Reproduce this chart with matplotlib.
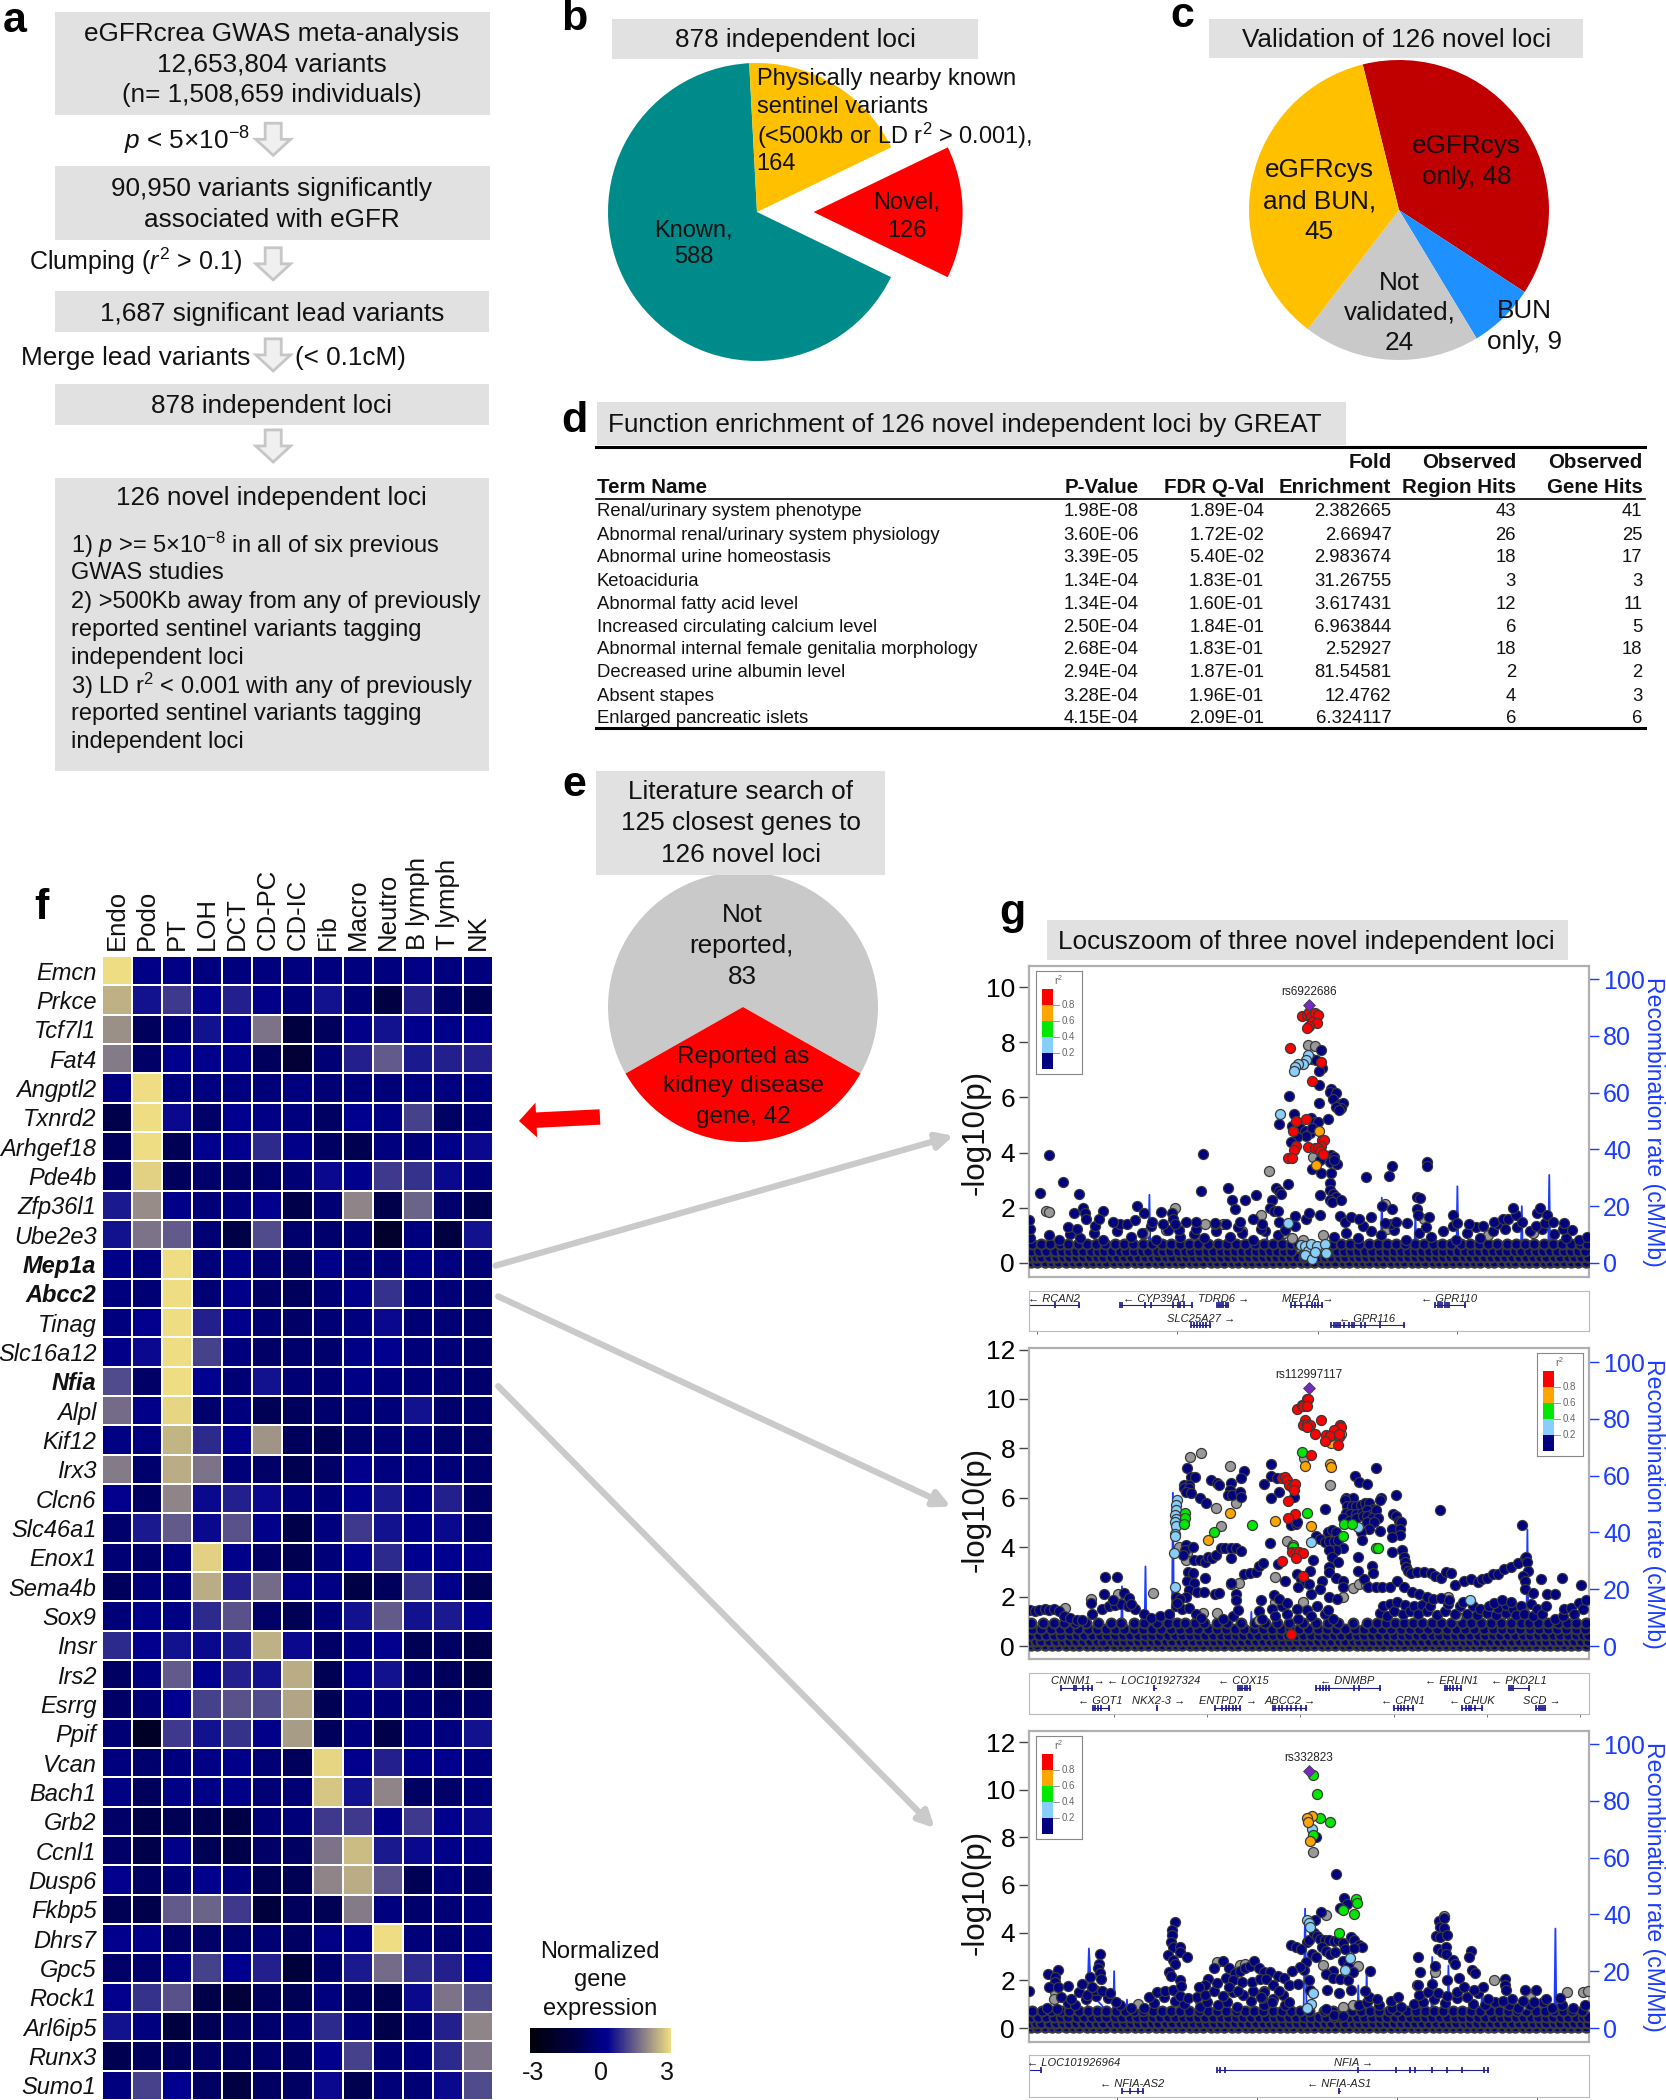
import matplotlib
matplotlib.use('Agg')
import matplotlib.pyplot as plt
from matplotlib.colors import LinearSegmentedColormap, Normalize
from matplotlib.patches import Rectangle, Polygon, FancyArrow, FancyArrowPatch
from matplotlib.path import Path

plt.rcParams['font.family'] = ['Liberation Sans', 'DejaVu Sans']
plt.rcParams['mathtext.fontset'] = 'custom'
plt.rcParams['mathtext.rm'] = 'Liberation Sans'
plt.rcParams['mathtext.it'] = 'Liberation Sans:italic'
plt.rcParams['mathtext.bf'] = 'Liberation Sans:bold'

W = 1666
H = 2100
GREY_BOX = '#E1E1E1'
BLUE = '#1B3CFF'

# ---- pies
b_values = [588, 126, 164]
b_colors = ['#008B8B', '#FF0000', '#FFC000']
c_values = [48, 9, 24, 45]
c_colors = ['#C00000', '#1E90FF', '#C9C9C9', '#FFC000']
e_values = [83, 42]
e_colors = ['#C9C9C9', '#FF0000']

# ---- table d
term_names = ['Renal/urinary system phenotype', 'Abnormal renal/urinary system physiology',
              'Abnormal urine homeostasis', 'Ketoaciduria', 'Abnormal fatty acid level',
              'Increased circulating calcium level', 'Abnormal internal female genitalia morphology',
              'Decreased urine albumin level', 'Absent stapes', 'Enlarged pancreatic islets']
p_vals = ['1.98E-08', '3.60E-06', '3.39E-05', '1.34E-04', '1.34E-04', '2.50E-04', '2.68E-04', '2.94E-04', '3.28E-04', '4.15E-04']
fdr_vals = ['1.89E-04', '1.72E-02', '5.40E-02', '1.83E-01', '1.60E-01', '1.84E-01', '1.83E-01', '1.87E-01', '1.96E-01', '2.09E-01']
fold_vals = ['2.382665', '2.66947', '2.983674', '31.26755', '3.617431', '6.963844', '2.52927', '81.54581', '12.4762', '6.324117']
region_hits = ['43', '26', '18', '3', '12', '6', '18', '2', '4', '6']
gene_hits = ['41', '25', '17', '3', '11', '5', '18', '2', '3', '6']

# ---- heatmap f
cell_types = ['Endo', 'Podo', 'PT', 'LOH', 'DCT', 'CD-PC', 'CD-IC', 'Fib', 'Macro', 'Neutro', 'B lymph', 'T lymph', 'NK']
genes = ['Emcn', 'Prkce', 'Tcf7l1', 'Fat4', 'Angptl2', 'Txnrd2', 'Arhgef18', 'Pde4b', 'Zfp36l1', 'Ube2e3',
         'Mep1a', 'Abcc2', 'Tinag', 'Slc16a12', 'Nfia', 'Alpl', 'Kif12', 'Irx3', 'Clcn6', 'Slc46a1',
         'Enox1', 'Sema4b', 'Sox9', 'Insr', 'Irs2', 'Esrrg', 'Ppif', 'Vcan', 'Bach1', 'Grb2',
         'Ccnl1', 'Dusp6', 'Fkbp5', 'Dhrs7', 'Gpc5', 'Rock1', 'Arl6ip5', 'Runx3', 'Sumo1']
bold_genes = ['Mep1a', 'Abcc2', 'Nfia']
expr = [
    [3, 0, 0, -.1, -.1, -.1, -.1, -.1, -.1, -.1, 0, -.1, -.1],
    [2.45, .5, 1, .35, .7, .1, -.2, .5, -.3, -1.2, .7, -.5, -.8],
    [2.05, -.7, -.3, .5, .2, 1.7, -1.3, -.7, .1, .5, .2, .1, .2],
    [1.8, -.5, .2, .2, .1, -.7, -1.6, -.3, .7, 1.4, .6, .7, .7],
    [-.1, 3, -.1, -.1, -.1, -.2, -.1, -.3, -.2, -.2, -.1, -.1, -.1],
    [-1, 3, .4, -.5, .3, 0, -.1, -.6, .3, 0, 1.1, -.6, -.3],
    [-.7, 3, -.8, .3, .2, .8, .1, -.6, -.9, -.1, -.2, .1, .4],
    [-.5, 2.85, -.7, -.4, -.5, -.4, -.3, .4, .2, 1, .9, .4, -.2],
    [.6, 2, .1, -.2, -.1, .2, -1, -.3, 1.9, -1, 1.5, -.4, -.9],
    [.5, 1.7, 1.4, -.3, -1.1, 1.2, -.4, -.4, -.3, -1.9, -.1, -1.3, .5],
    [.1, -.1, 3, -.2, .1, -.3, -.6, .1, -.2, -.2, .1, -.1, -.3],
    [-.1, -.3, 3, -.3, .1, -.5, -.7, -.3, .1, .9, -.2, -.2, -.4],
    [-.1, .2, 3, .7, .2, -.3, -.5, -.3, -.1, .4, -.3, -.3, -.4],
    [.1, .4, 3, 1.1, -.1, -.5, -.4, -.4, 0, .3, -.2, -.2, -.4],
    [1.2, -.5, 3, .3, -.3, .5, -.3, -.3, 0, -.1, -.2, -.3, -.4],
    [1.6, .1, 2.9, -.4, -.1, -.8, -.7, -.4, -.3, -.2, .5, -.4, -.4],
    [0, -.1, 2.5, .8, .2, 2.1, -.7, -.8, -.4, -.3, -.2, -.4, -.5],
    [1.8, -.4, 2.4, 1.7, -.2, -.5, -.9, -.5, .2, -.1, -.1, -.2, -.4],
    [.2, -.6, 1.9, .4, .7, .4, -.2, -.2, .3, .6, 0, .7, -.5],
    [-.4, .6, 1.4, .4, 1.3, .1, -1, -.1, 1, .5, .1, .4, -.4],
    [-.3, -.4, -.1, 2.85, .1, -.5, -.9, -.2, .3, .8, .3, .3, .1],
    [-.7, -.2, -.2, 2.4, .7, 1.6, 0, 0, -1.1, -.7, .9, .1, -.8],
    [-.2, .1, 0, .8, 1.3, -.5, -.8, -.2, .5, 1.4, .5, .6, .2],
    [.8, .2, .5, .4, .6, 2.45, .4, -.5, -.1, .2, -.8, -.6, -1],
    [-.6, -.1, 1.4, .3, .7, .5, 2.4, -.8, .1, .5, -.5, -.7, -1.1],
    [-.5, -.3, .3, 1.1, 1.3, 1.2, 2.3, -.8, -.1, -.2, -.3, -.5, -.5],
    [-.3, -2.1, 1, .5, .9, .1, 2.2, -.7, -.1, -1, -.1, -.1, .5],
    [-.1, -.4, -.1, 0, .1, -.3, -.7, 2.9, .2, .7, .1, .2, -.1],
    [0, -.7, 0, 0, .1, -.3, -.3, 2.7, .5, 1.9, -.6, -.5, -.2],
    [-.5, -1, -.8, -.9, -1.1, -.3, -.2, 1, 1, .1, 1, .2, .4],
    [-.5, -1, .1, -.8, -1, -.5, -.6, 1.7, 2.6, .6, .4, .1, 0],
    [.2, -.6, -.2, .2, -.1, -.8, -.8, 1.9, 2.4, 1.3, -.8, -.1, -.5],
    [-.8, -1, 1.4, 1.5, 1, -1.4, -.7, -.8, 1.8, -.1, -.4, -.3, -.1],
    [.2, .1, -.5, -.5, -.4, -.3, -.6, 0, .1, 3, -.2, -.3, -.1],
    [-.5, -.4, 0, 1.1, .3, .7, -1.5, -.4, .6, 1.6, .8, .7, .3],
    [.2, .9, 1.3, -1, -1.5, -.7, -.8, -.1, -.6, -.9, .4, 1.7, 1.2],
    [.5, -.1, -1.3, -.8, -.5, -.4, -.3, .8, -.2, -1, -.4, .7, 1.9],
    [-.9, -.7, -.7, -.5, -.6, -.4, -.6, .2, 1.1, -.3, -.1, .8, 1.7],
    [-.1, 1.1, .3, -.6, -1.2, -.6, -.6, .4, -.9, -.2, -.3, .4, 1.2],
]

# ---- locus zoom: low band, x in percent of the panel width
low_x_a = [0.4, 1.5, 2.9, 4.1, 5.2, 6.6, 7.8, 8.9, 10.3, 11.4, 12.7, 13.8, 15.1, 16.4, 17.5, 18.9, 20, 21.2, 22.6, 23.7, 25, 26.3, 27.4, 28.8, 29.9, 31.1, 32.5, 33.6, 34.9, 36.2, 37.3, 38.7, 39.8, 41, 42.4, 43.5, 44.8, 46.1, 47.2, 48.6, 49.7, 50.9, 52.3, 53.4, 54.7, 56, 57.1, 58.5, 59.6, 60.8, 62.2, 63.3, 64.6, 65.9, 67, 68.4, 69.5, 70.7, 72.1, 73.2, 74.5, 75.8, 76.9, 78.3, 79.4, 80.6, 82, 83.1, 84.4, 85.7, 86.8, 88.2, 89.3, 90.5, 91.9, 93, 94.3, 95.6, 96.7, 98.1, 99.4]
low_x_b = [0.1, 1.2, 2.2, 3.5, 4.8, 6, 7.1, 8.4, 9.7, 10.9, 12.1, 13.2, 14.6, 15.8, 16.9, 18.2, 19.5, 20.7, 21.9, 23.1, 24.4, 25.6, 26.9, 28.1, 29.3, 30.6, 31.8, 33, 34.3, 35.5, 36.8, 38, 39.2, 40.5, 41.7, 43, 44.1, 45.4, 46.6, 47.9, 49.1, 50.3, 51.6, 52.8, 54, 55.3, 56.5, 57.8, 59, 60.2, 61.5, 62.7, 64, 65.2, 66.4, 67.7, 68.9, 70.1, 71.4, 72.6, 73.9, 75.1, 76.3, 77.6, 78.8, 80, 81.3, 82.5, 83.8, 85, 86.2, 87.5, 88.7, 90, 91.2, 92.4, 93.7, 94.9, 96.2, 97.4, 98.6, 99.8]
low_grey_x = [1, 3.2, 6.3, 8.1, 11, 14.2, 17.8, 21.5, 24.1, 27.7, 30.2, 33.3, 36.5, 39.4, 42.1, 45.2, 48.5, 50.5, 52.1, 55.7, 58.2, 61.1, 64.3, 67.4, 70.4, 73.1, 76.7, 79.7, 82.3, 85.1, 88.6, 91.4, 94.6, 97.3, 99.1]

p1_levels = [0.45, 0.7]
p1_rows = [
    [0.3, 1.8, 3, 4.6, 5.9, 7.2, 8.4, 9.6, 11.1, 12.3, 13.4, 14.9, 16.2, 17.3, 18.7, 20.1, 21.3, 22.8, 24, 25.1, 26.6, 27.9, 29, 30.4, 31.7, 32.9, 34.2, 35.5, 36.7, 38, 39.3, 40.6, 41.8, 43, 44.3, 45.6, 46.8, 53.7, 55, 56.3, 57.5, 58.8, 60, 61.3, 62.6, 63.9, 65.1, 66.4, 67.7, 69, 70.2, 71.5, 72.7, 74, 75.3, 76.6, 77.8, 79.1, 80.3, 81.6, 82.9, 84.1, 85.4, 86.7, 87.9, 89.2, 90.5, 91.7, 93, 94.2, 95.5, 96.8, 98, 99.3],
    [0.5, 2.1, 3.8, 5.5, 7, 8.7, 10.4, 12, 13.5, 15.3, 17, 18.6, 20.4, 22, 23.7, 25.4, 27, 28.6, 30.2, 32, 33.7, 35.3, 37, 38.6, 40.3, 41.9, 43.6, 45.2, 46.7, 48, 54.2, 55.8, 57.4, 59, 60.7, 62.3, 64, 65.6, 67.2, 68.9, 70.5, 72.2, 73.8, 75.4, 77.1, 78.7, 80.4, 82, 83.6, 85.3, 87, 88.6, 90.2, 91.9, 93.5, 95.1, 96.8, 98.4, 99.7],
]
p1_upper = [(0.2, .9), (0.1, 1.25), (0, 1.55), (3.5, 1), (5.4, .85), (7.4, 1.05), (9.1, .9), (11.6, 1.1), (13.3, .85), (15.8, 1.15), (18.3, .95), (20.1, 1.1), (22.7, .85), (24.9, 1.2), (27, .95), (29.5, 1.05), (31.2, .9), (33.4, 1.15), (35.9, .95), (38.1, 1.1), (40, .85), (42.2, 1.15), (44.4, 1), (45.8, 1.2), (47.5, 1.35), (54.5, .95), (56.6, 1.1), (58.7, .9), (61, 1.15), (62.9, 1), (65.1, 1.2), (67.3, .85), (69.6, 1.1), (71.8, .95), (74, 1.15), (76.2, .85), (78.3, 1.1), (80.5, .9), (82.8, 1.15), (85, 1.25), (87.1, 1.3), (89.4, 1.15), (91.6, 1.25), (93.7, 1.05), (95.9, .9), (98.2, .85), (99.6, .95),
            (6.9, 1.3), (8.5, 1.25), (11.8, 1.35), (16.3, 1.4), (21.8, 1.35), (26.8, 1.2), (29.8, 1.25), (33.2, 1.4), (37.3, 1.3), (41.5, 1.25), (59.6, 1.35), (64.7, 1.4), (70.9, 1.3), (75.8, 1.35), (79.8, 1.3), (83.6, 1.4), (90.6, 1.35), (92.1, 1.45), (95.3, 1.25), (97, 1.2)]
p1_navy = [(3.6, 3.9), (31, 3.95), (2, 2.55), (6, 2.95), (8.9, 2.5), (30.7, 2.6), (35.5, 2.7), (36.2, 2.3), (38.5, 2.3), (40.5, 2.45), (44.1, 2.7), (44.6, 2.6), (45, 2.5), (46.2, 2.85), (52, 2.45), (53.8, 2.9), (53.8, 2.65), (54.2, 2.5), (54.8, 2.4), (53.8, 2.3), (54.1, 2.2), (55.8, 2.3), (60.2, 3.1), (64.2, 3.15), (64.8, 3.5), (71, 3.65), (71, 3.5), (69.2, 2.4), (69.8, 2.35), (63, 2.05), (64.8, 1.95), (69.2, 1.95), (43.4, 2.3), (43, 2), (43.7, 1.9), (44.5, 1.9), (36.8, 1.95), (8, 1.8), (9.6, 2), (10, 1.8), (10.2, 1.6), (13.2, 1.9), (19.3, 2.05), (20.6, 1.8), (23.6, 1.85), (25.6, 1.8), (25.8, 1.6), (26.1, 1.4),
           (52.1, 7.7), (50.5, 7.4), (51.3, 7.35), (52.4, 7.05), (51.8, 6.95), (51.8, 6.45), (54, 6.3), (53.8, 6.2), (54.8, 6.15), (54.2, 5.95), (46.4, 6.05), (51.8, 5.8), (55.5, 5.75), (56, 5.8), (55.8, 5.6), (54.8, 5.65), (55.3, 5.55), (47.4, 5.4), (44.7, 5.05), (50.4, 5.25), (51, 5.1), (51.6, 5.1), (53.4, 5.2), (47, 4.95), (48.4, 4.9), (49.3, 4.8), (50.1, 4.7), (50.6, 4.9), (49.5, 4.6), (47.8, 4.55), (46.8, 4.4), (52, 3.75), (54, 3.9), (54.5, 3.85), (53.8, 3.65), (55, 3.6), (54.5, 3.75), (50.6, 3.4), (52.1, 3.25), (53.9, 3.25),
           (12.5, 1.6), (15, 1.5), (17.5, 1.4), (19, 1.55), (22, 1.5), (24, 1.4), (28, 1.5), (29.8, 1.5), (33.3, 1.45), (35.2, 1.4), (37.6, 1.5), (40, 1.6), (41.6, 1.4), (44.6, 1.5), (47.5, 1.7), (49.5, 1.6), (50, 1.8), (52, 1.75), (55.5, 1.7), (56.5, 1.5), (57.5, 1.65), (59, 1.6), (61, 1.65), (63.5, 1.45), (65.5, 1.5), (67.5, 1.45), (69.4, 1.75), (71.5, 1.65), (75.8, 1.75), (76.5, 1.45), (78.5, 1.4), (81, 1.35), (83, 1.5), (84.7, 1.6), (85.5, 1.6), (87, 1.75), (88, 1.5), (86.5, 2), (90.7, 1.8), (91.2, 2), (92.5, 1.75), (93.5, 1.5), (95.5, 1.45)]
p1_grey = [(3, 1.9), (3.5, 1.85), (26, 2), (63.6, 2.15), (41.5, 1.75), (49.9, 7.9), (51.1, 7.85), (50.7, 3.85), (42.9, 3.35), (20.8, 1.1), (24.5, 1.2), (31.5, 1.4), (34.6, 1.4), (38, 1.15), (45.5, 1.1), (47, .9), (49, .85), (52.5, 1), (64, 1.25), (70.5, 1.6), (82, 1), (90, 1.1)]
p1_lblue = [(49.9, 7.55), (49.4, 7.35), (49, 7.2), (48, 7.2), (47.5, 7.1), (47.3, 6.95), (44.9, 5.4), (46.2, 1.45), (48.5, .65), (49.3, .6), (49.8, .45), (50.3, .7), (49.3, .3), (50.5, .15), (51.5, .6), (52.8, .7), (53, .35), (51, .4)]
p1_orange = [(51.7, 4.8), (51.2, 3.55)]
p1_red = [(48.8, 8.95), (49.6, 9), (50, 9.1), (50.4, 8.9), (51, 9.05), (51.6, 9), (50.6, 8.75), (51.5, 8.7), (50, 8.6), (49.7, 8.5), (46.6, 7.8), (52.1, 7.3), (50.6, 6.6), (47.6, 5.15), (49.5, 5.2), (47.2, 4.8), (52.3, 4.45), (52.7, 4.45), (52.2, 4.25), (47.7, 4.25), (47.3, 4.1), (49.8, 4.2), (51, 4.15), (51.6, 4.15), (52, 4.05), (52.5, 3.95), (46.3, 3.8), (47, 3.8)]
p1_lead = (50, 9.35)
p1_rec_x = [0, 21.3, 21.5, 21.7, 42.3, 42.5, 42.7, 62.8, 63, 63.2, 68.8, 69, 69.2, 76.3, 76.5, 76.7, 87.8, 88, 88.2, 92.7, 92.9, 93.1, 100]
p1_rec_y = [.3, .5, 24, .5, .5, 11, .5, .5, 23, .5, .5, 18, .5, .5, 27, .5, .5, 20, .5, .5, 31, .5, .3]

p2_levels = [0.45, 0.7, 0.95]
p2_rows = [
    [0.2, 1.7, 3.1, 4.4, 5.8, 7.3, 8.6, 9.9, 11.3, 12.6, 13.9, 15.4, 16.7, 18, 19.4, 20.7, 22, 23.4, 24.8, 26.1, 27.4, 28.8, 30.1, 31.5, 32.8, 34.2, 35.5, 36.9, 38.2, 39.6, 40.9, 42.3, 43.6, 45, 46.3, 47.7, 49, 50.4, 51.7, 53.1, 54.4, 55.8, 57.1, 58.5, 59.8, 61.2, 62.5, 63.9, 65.2, 66.6, 67.9, 69.3, 70.6, 72, 73.3, 74.7, 76, 77.4, 78.7, 80.1, 81.4, 82.8, 84.1, 85.5, 86.8, 88.2, 89.5, 90.9, 92.2, 93.6, 94.9, 96.3, 97.6, 99, 99.9],
    [0.6, 2.2, 3.9, 5.6, 7.1, 8.8, 10.5, 12.1, 13.7, 15.4, 17, 18.7, 20.3, 22, 23.6, 25.3, 26.9, 28.5, 30.2, 31.9, 33.5, 35.1, 36.8, 38.4, 40.1, 41.7, 43.4, 45, 46.6, 48.3, 49.9, 51.6, 53.2, 54.9, 56.5, 58.2, 59.8, 61.4, 63.1, 64.7, 66.4, 68, 69.7, 71.3, 72.9, 74.6, 76.2, 77.9, 79.5, 81.2, 82.8, 84.4, 86.1, 87.7, 89.4, 91, 92.7, 94.3, 95.9, 97.6, 99.2],
    [0.3, 2.5, 4.4, 6.3, 8.2, 10.1, 12.4, 14.6, 16.5, 18.8, 20.6, 22.9, 24.8, 26.4, 27.9, 29.7, 31.3, 33.6, 35.4, 37.9, 40.3, 42.1, 44.3, 46.5, 48.9, 51.2, 53.4, 55.2, 57.8, 60.4, 62.1, 63.8, 65.3, 66.9, 68.5, 70.2, 71.9, 73.5, 75.4, 77.3, 79, 80.7, 82.5, 84.3, 86, 87.8, 89.3, 90.9, 92.6, 94.4, 96, 97.7, 99.4],
]
p2_upper = [(0.1, 1.45), (1, 1.4), (1.8, 1.45), (2.8, 1.5), (3.6, 1.45), (4.4, 1.5), (5.4, 1.4), (6.3, 1.2), (7.3, 1.15), (8.5, 1.05), (9.5, 1.05), (11.2, 1.3), (13.1, 1.5), (14.2, 1.6), (15.3, 1.65), (16.4, 1.7), (17.7, 1.6), (19, 1.5), (20.5, 1.3), (21.8, 1.15), (23.4, 1.2), (25, 1.3), (26.2, 1.6), (27.3, 1.5), (28.5, 1.55), (29.9, 1.3), (30.8, 1.15), (34.6, 1.1), (36.4, 1.2), (37.4, 1.45), (41, 1.4), (41.6, 1.1), (43.4, 1.5), (43.9, 1.2), (45.2, 1.6), (46.1, 1.3), (47.8, 1.5), (48, 1.1), (49.6, 1.45), (50.3, 1.2), (51.5, 1.6), (52.9, 1.3), (53.4, 1.45), (54.3, 1.1),
            (62.6, 1.35), (63.2, 1.6), (63.9, 1.2), (64.4, 1.7), (65.2, 1.4), (65.8, 1.8), (66.7, 1.3), (67.2, 1.65), (68.1, 1.4), (68.7, 1.6), (69.5, 1.3), (70.1, 1.65), (71.1, 1.4), (71.6, 1.6), (72.8, 1.25), (74.3, 1.4), (74.8, 1.7), (76.1, 1.3), (77, 1.6), (78.2, 1.3), (79.2, 1.6), (80, 1.25), (80.6, 1.5), (81.7, 1.35), (82.1, 1.6), (83.4, 1.25), (83.8, 1.55), (85.1, 1.35), (85.2, 1.65), (86.5, 1.5), (86.9, 1.25), (87.9, 1.6), (88.4, 1.3), (89.6, 1.7), (90, 1.2), (90.8, 1.5), (91.6, 1.3), (92.4, 1.6), (93.9, 1.1), (95.3, 1.2), (95.6, 1.5), (96.7, 1.55), (97.4, 1.3), (98.2, 1.75), (98.9, 1.5), (99.5, 1.85)]
p2_navy = [(28.2, 7.2), (43.3, 7.35), (62, 7.2), (38.4, 7.1), (37.9, 6.8), (29, 6.85), (29.7, 6.85), (43.3, 6.9), (44.2, 6.8), (32.5, 6.7), (33.5, 6.6), (33.9, 6.5), (36, 6.6), (41.9, 6.55), (27.6, 6.5), (28.6, 6.5), (27.6, 6.4), (28.6, 6.4), (28, 6.25), (29, 6.2), (35.9, 6.3), (35.5, 6.1), (36.3, 6.1), (37.6, 6.25), (37.9, 6.05), (43.2, 6), (44.6, 6.25), (47.4, 6.05), (30.6, 6), (31.6, 5.8),
           (58.3, 6.9), (58.9, 6.65), (60.3, 6.55), (65.5, 6.1), (62.8, 6), (62.6, 5.9), (56.6, 6), (57.8, 6), (56.4, 5.9), (56.8, 5.65), (57.6, 5.65), (58.4, 5.65), (59.2, 5.7), (60, 5.8), (60.8, 5.8), (61.4, 5.55), (56.6, 5.4), (57.4, 5.35), (58.4, 5.35), (59.4, 5.4), (60.4, 5.5), (61.2, 5.35), (62, 5.5), (56, 5.2), (57.2, 5.05), (58.4, 5.2), (59.6, 5.25), (60.4, 5.25), (61.2, 5.2), (62.4, 5.2), (60.4, 5), (61.6, 5), (62.6, 4.65), (60.8, 4.75), (59.2, 4.6), (59.4, 4.3), (52.8, 5.55),
           (65, 5.35), (65.5, 5.25), (66, 5.05), (66.4, 5), (64.8, 4.75), (66.2, 4.75), (66.2, 4.5), (64.8, 4.4), (66.6, 3.9), (64.9, 3.8), (66.9, 3.6), (67.1, 3.4), (67.3, 3.2), (67.7, 3.05), (68.3, 2.95), (69.3, 3), (70.5, 3), (71.7, 2.95), (72.5, 2.85), (73.5, 2.75), (73.4, 5.5), (88, 4.9), (74.5, 3), (75.3, 2.95), (76.1, 2.45), (77.7, 2.65), (78.9, 2.7), (80.1, 2.6), (80.9, 2.7), (81.7, 2.75), (82.9, 2.9), (83.7, 2.9), (84.9, 3.1), (86.1, 3.2), (87.3, 3.35), (88.5, 3.55), (88.8, 3.6), (89, 3.4), (89.1, 3.05), (88.2, 2.85), (88.6, 2.65), (91.4, 2.7), (95.2, 2.75), (98.6, 2.45), (88.5, 2.3), (90, 2.15), (92.5, 2.1), (94, 2.1),
           (28, 4.1), (27.8, 3.9), (29.3, 4), (27.5, 3.7), (29.5, 3.5), (30.5, 3.5), (31.4, 3.4), (31.9, 3.6), (32.6, 3.55), (33.4, 3.7), (34.2, 3.95), (35, 3.95), (36, 3.95), (37, 3.95), (37.9, 3.85), (36, 3.55), (38.4, 2.9), (39.5, 2.95), (40.5, 3), (41, 3.25), (41.7, 3.35), (43, 4.15), (28.4, 3), (29.3, 2.95), (28.2, 2.65), (29.5, 2.55), (31.5, 2.75), (28.5, 2.25), (30, 2.2), (31.3, 2.2), (33.3, 2.1), (33.9, 2.15), (36, 2.55), (37, 2.1), (37, 1.85), (41.4, 1.85), (43.8, 2.05), (44.7, 1.9), (45.7, 2.65), (46, 1.75),
           (46.8, 4.9), (47.6, 4.95), (47.8, 5), (44.4, 3.3), (47, 4), (47.8, 2.9), (48.5, 2.7), (49.2, 2.6), (50, 2.5), (48, 2.4), (50.1, 3.05), (50.8, 3.5), (51.2, 4.45), (52, 4.35), (52.8, 4.2), (53.4, 4.6), (54.1, 4.7), (54.9, 4.6), (53.6, 4.25), (54.4, 4.25), (55.2, 4.3), (56, 3.95), (54.8, 3.9), (53.5, 3.9), (54.1, 3.6), (55.1, 3.4), (53.6, 3.2), (53.5, 3), (54.9, 2.75), (56, 2.65), (52.3, 2.65), (52, 2.3), (50.3, 2.1), (53.5, 2), (55, 1.9), (56, 2.4), (58.7, 3.6), (58.8, 3.05), (59.8, 2.7), (61.2, 3.25), (61.5, 2.95), (60.6, 2.4), (62, 2.4), (63, 2.4), (64.4, 2.4), (65.7, 2.65), (66.9, 2.4), (68.4, 2.2), (69.6, 2.1), (71, 2), (72.2, 1.9), (73.6, 1.95), (75, 1.85), (77.5, 1.8), (83, 1.75), (84.5, 1.85), (86, 1.8), (28, 2), (26.2, 2), (27, 1.9), (26.5, 1.75), (13.6, 2.78), (15.8, 2.78), (13.4, 2.1), (16.9, 2.15), (17.8, 1.95), (11, 1.75), (15, 1.85), (18.2, 1.7)]
p2_grey = [(28.7, 7.65), (30.7, 7.8), (35.9, 7.3), (49.1, 7.6), (53.8, 6.5), (33.4, 5.6), (37, 5.8), (34.2, 4.85), (26.8, 4), (28.3, 3.75), (28, 3.5), (37.5, 2.55), (36, 2.5), (43.9, 2.8), (46, 4.25), (47.2, 4.1), (57.8, 2.35), (59, 2.5), (60.1, 2.45), (56.1, 2), (74.8, 2), (88.5, 1.3), (15.9, 2.1), (22.1, 2.15), (18.4, 1.6), (11, 1.9), (6.5, 1.55), (31, 1.35), (33.5, 1.35), (41, 1.05), (44, 1.8), (49, 1.8), (76.5, 1.2)]
p2_lblue = [(26.5, 5.9), (26.3, 5.7), (26.2, 5.5), (26.1, 5.3), (26.3, 5.15), (26, 5), (26.2, 4.85), (26.1, 4.55), (26, 4.45), (25.9, 3.75), (26, 2.4), (50.3, 4.2), (58.8, 4.8), (78.7, 1.85)]
p2_green = [(27.9, 5.4), (27.8, 5.2), (27.7, 4.95), (33, 4.6), (39.8, 4.9), (48.8, 7.85), (49.6, 5.4), (56.3, 4.95), (57.6, 4.95), (56.1, 4.45), (62, 3.95), (62.3, 3.95), (47.2, 4)]
p2_orange = [(55.7, 8.6), (53.9, 8.2), (49.2, 7.3), (53.8, 7.35), (54, 7.25), (35.9, 5.4), (43.9, 5.05), (50.4, 4.85), (31.9, 4.3)]
p2_red = [(47.8, 9.6), (48.8, 9.75), (49.6, 10), (49.8, 10), (49, 9.7), (49.6, 9.7), (49.2, 9.15), (49, 8.95), (49.7, 9), (50.2, 8.95), (49.6, 8.85), (52.2, 9.15), (51, 8.6), (55.6, 8.95), (55.7, 8.85), (54.5, 8.75), (53.1, 8.55), (53.8, 8.5), (55.3, 8.45), (52.8, 8.3), (55.2, 8.15), (55.4, 8.6), (50.3, 7.75), (45.2, 6.8), (45.8, 6.85), (46, 6.7), (46.5, 6.5), (47, 6.45), (47.5, 6.55), (47.4, 6.3), (46.2, 5.85), (47.5, 5.35), (46.2, 5.2), (46.9, 3.8), (47.6, 3.8), (48.2, 3.8), (48.9, 3.75), (47.7, 3.55), (45.2, 3.45), (48.9, 2.85), (46.7, .5)]
p2_lead = (50, 10.43)
p2_rec_x = [0, 16.4, 16.6, 16.8, 20.6, 20.8, 21, 25.5, 25.7, 25.9, 39.5, 39.7, 39.9, 88.8, 89, 89.2, 100]
p2_rec_y = [.3, .5, 21, .5, .5, 28, .5, .5, 54, .5, .5, 12, .5, .5, 41, .5, .3]

p3_levels = [0.45, 0.7]
p3_rows = [
    [0.3, 1.6, 3, 4.5, 5.7, 7, 8.5, 9.8, 11.2, 12.5, 13.8, 15.3, 16.6, 18, 19.3, 20.6, 22.1, 23.4, 24.8, 26.1, 27.5, 28.8, 30.2, 31.5, 32.9, 34.2, 35.6, 36.9, 38.3, 39.6, 41, 42.3, 43.7, 45, 46.4, 47.7, 49.1, 50.4, 51.8, 53.1, 54.5, 55.8, 57.2, 58.5, 59.9, 61.2, 62.6, 63.9, 65.3, 66.6, 68, 69.3, 70.7, 72, 73.4, 74.7, 76.1, 77.4, 78.8, 80.1, 81.5, 82.8, 84.2, 85.5, 86.9, 88.2, 89.6, 90.9, 92.3, 93.6, 95, 96.3, 97.7, 99, 99.8],
    [0.5, 2.3, 4, 5.7, 7.2, 8.9, 10.6, 12.2, 13.8, 15.5, 17.1, 18.8, 20.4, 22.1, 23.7, 25.4, 27, 28.6, 30.3, 31.9, 33.6, 35.2, 36.9, 38.5, 40.2, 41.8, 43.5, 45.1, 46.7, 48.4, 50, 52.7, 54.3, 56, 57.6, 59.3, 60.9, 62.5, 64.2, 65.8, 67.5, 69.1, 70.8, 72.4, 74, 75.7, 77.3, 79, 80.6, 82.3, 83.9, 85.5, 87.2, 88.8, 90.5, 92.1, 93.8, 95.4, 97, 98.7],
]
p3_upper = [(3.2, .85), (5, .8), (6.9, 1.05), (8.3, .95), (10.1, 1.2), (12, 1.35), (14.1, 1.25), (16.3, .95), (18.2, .85), (20.5, .85), (22.4, 1.05), (24.1, 1.3), (26, 1.15), (27.7, 1), (30.5, .9), (31.8, 1.1), (33.7, .95), (35.4, 1.1), (37.2, .9), (39.6, 1.15), (42, .95), (43.5, 1.2), (45.8, .95), (58.9, .95), (60.4, 1.1), (62.5, .95), (64.8, .85), (66.4, .9), (68.7, 1), (70.3, 1.1), (72.4, 1.2), (74.3, 1.05), (76.5, 1.25), (79.3, 1), (81.4, .95), (83.2, 1.1), (85.7, .95), (87.3, .85), (89.5, .95), (91.7, 1.1), (93.4, .85), (95.2, .95), (97.1, .85), (99.3, .95),
            (5.8, 1.3), (7.5, 1.2), (9, 1.5), (10.4, 1.4), (11.7, 1.6), (13, 1.55), (14.4, 1.45), (15.6, 1.1), (21.4, 1.3), (22.9, 1.5), (24.3, 1.55), (25.7, 1.6), (26.9, 1.35), (28.4, 1.25), (30, 1.3), (31.4, 1.4), (33, 1.55), (34.6, 1.35), (36.4, 1.5), (38.2, 1.4), (40, 1.55), (41.6, 1.25), (45.4, 1.4), (60.7, 1.3), (62.2, 1.2), (64.6, 1.15), (65.9, 1.3), (69.6, 1.4), (71.2, 1.5), (73, 1.45), (74.6, 1.35), (76.4, 1.5), (78.2, 1.3), (80.2, 1.45), (81.9, 1.2), (84.6, 1.15), (86.2, 1.2), (88.3, 1.15), (90.1, 1.1), (92.4, 1.2), (94.8, 1.25)]
p3_navy = [(51.3, 8), (54.8, 6.45), (56.2, 5.45), (56.8, 5.2), (55.6, 5.05), (52.2, 4.85), (51, 4.55), (26, 4.45), (25.6, 4.1), (25.6, 3.9), (25.4, 3.6), (25.8, 3.4), (27, 3.4), (26.9, 3.2), (28.2, 3), (24.9, 3.05), (25.7, 2.85), (26, 2.7), (25, 2.35), (25.4, 2.2), (27, 2), (27.2, 1.75), (12.7, 3.1), (12.5, 2.7), (12.4, 2.5), (12.6, 2.3), (5.1, 2.45), (3.4, 2.25), (4.7, 2.15), (4.7, 1.95), (10.9, 2.15), (12.8, 2.05), (3.6, 1.7), (5.2, 1.7), (7, 1.75), (9.5, 1.85), (11.2, 1.7), (0, 1.55),
           (73.3, 4.5), (74.1, 4.6), (73.4, 4.25), (74.1, 4.2), (72.7, 3.85), (73.4, 3.8), (74.7, 3.9), (73, 3.3), (73.7, 3.2), (74.5, 3.4), (74.5, 3.1), (69.4, 3), (75.8, 2.85), (76.1, 2.7), (72.5, 2.6), (78.9, 3.25), (78.5, 3), (79.1, 2.45), (79.7, 2.3), (69.9, 2.35), (76.7, 2.1), (74.6, 2), (72, 1.85), (69.5, 1.8), (81, 1.7), (85, 2.05), (85, 1.8), (85.2, 1.6), (88.5, 1.6), (90.5, 1.6), (77.6, 1.7), (79.5, 1.6),
           (46.7, 3.5), (47.6, 3.4), (49.6, 3.6), (48.5, 3.3), (50, 3.7), (50.9, 4), (51.4, 3.85), (52, 3.75), (52.8, 3.7), (53.6, 3.7), (54.4, 3.65), (55.2, 3.7), (56, 3.55), (57.5, 3.8), (58, 3.7), (59, 3.5), (59.5, 3.4), (52.4, 3.4), (53, 3.25), (53.8, 3.1), (54.6, 3.2), (56.4, 3.3), (58, 3.35), (50.5, 3.1), (51.3, 3), (49.4, 2.75), (49.1, 2.45), (56.1, 2.8), (57, 2.6), (57.8, 2.35), (60.9, 2.4), (54.3, 2.4), (53, 2.25), (54.2, 2.1), (55.5, 2.05), (57, 2), (48.4, 2.55), (47, 2.4),
           (33, 2.5), (34.6, 2.8), (35.8, 2.5), (36.8, 2.3), (37.6, 2.4), (38.5, 2.5), (39.5, 2.6), (40.2, 2.8), (41, 2.5), (42, 2.35), (43, 2.35), (44.4, 2.2), (45.6, 2.1), (32, 2.05), (33.6, 1.9), (35.2, 2.1), (36.5, 2), (38, 1.95), (39.8, 1.95), (41.3, 2.05), (42.4, 2.05), (43.5, 1.8), (46.5, 1.8), (48, 1.85), (50, 2), (31.5, 1.8), (30.3, 1.7), (35.8, 1.7), (37.4, 1.55), (42, 1.5), (44.6, 1.55), (41.5, 1.3), (43.4, 1.1), (46.5, 1.1), (53.3, 1.6), (55.4, 1.45), (57.5, 1.6), (60, 1.55), (50.2, 1.6), (53, .8), (54.5, .55), (56, .5)]
p3_grey = [(74.1, 4.7), (33.6, 2.75), (37.7, 2.65), (38.5, 2.7), (50.8, 7.4), (53.1, 4.75), (52.5, 2.65), (58.8, 2.6), (83, 2), (4.6, 1.5), (4.5, 1.2), (69.3, 1.8), (72.5, 2.35), (89.5, 1.3), (96, 1.5), (99, 1.5), (99.9, 1.55), (30.5, 1.15), (56, .9), (57.8, .95), (19.5, 1), (42, 1.55), (88, .95)]
p3_lblue = [(50.6, 8.35), (49.6, 4.55), (50, 4.4), (50.1, 4.25), (57.3, 2.95), (56.5, 2.45), (50.7, 1.45), (50.4, 1), (49.6, .85)]
p3_green = [(50.8, 10.6), (51.4, 9.8), (52, 8.8), (53.8, 8.65), (50.8, 8.1), (56, 4.95), (58.4, 5.4), (58.6, 5.25), (58.1, 4.8), (55.3, 4)]
p3_orange = [(50.5, 8.9), (49.6, 8.8), (49.8, 8.65), (50.1, 7.85)]
p3_lead = (50, 10.8)
p3_rec_x = [0, 10.3, 10.7, 11.1, 13, 15, 15.2, 15.4, 17.3, 17.5, 17.7, 49, 49.3, 49.6, 58.6, 58.8, 59, 60.1, 60.3, 60.5, 69.8, 70, 70.2, 71.8, 72, 72.2, 74.7, 74.9, 75.1, 80.7, 80.9, 81.1, 93.8, 94, 94.2, 100]
p3_rec_y = [.3, .5, 28, 12, 8, .5, 20, .5, .5, 10, .5, .5, 42, .5, .5, 15, .5, .5, 20, .5, .5, 15, .5, .5, 25, .5, .5, 22, .5, .5, 15, .5, .5, 35, .5, .3]

# gene tracks: name, label position, row, start, end, exons
p1_tracks = [('\u2190 RCAN2', 4.4, 0, 0, 9, [4.6, 9]), ('\u2190 CYP39A1', 22.4, 0, 16.2, 29.1, [16.2, 16.6, 20.8, 21.8, 25.8, 26.6, 27, 27.6, 29.1]),
             ('TDRD6 \u2192', 34.7, 0, 33.5, 35.5, [33.5, 33.9, 34.3, 34.7, 35.1, 35.5]), ('MEP1A \u2192', 49.7, 0, 46.7, 52.4, [46.7, 47.5, 48.6, 49.6, 50.6, 51, 51.6, 52.4]),
             ('\u2190 GPR110', 75, 0, 72.5, 77.8, [72.5, 73, 73.4, 73.8, 74.2, 74.6, 75, 77.8]), ('SLC25A27 \u2192', 30.8, 1, 29, 32.3, [29, 29.5, 30, 30.5, 31, 31.6, 32.3]),
             ('\u2190 GPR116', 60.4, 1, 54, 66.9, [54, 54.4, 54.8, 55.2, 55.6, 56.2, 57.2, 57.6, 58, 59.2, 60, 62.6, 66.9])]
p1_ticks = [1.5, 26.5, 51.6, 76.5]
p2_tracks = [('CNNM1 \u2192', 8.7, 0, 5.7, 11.3, [5.7, 8, 8.4, 9.7, 10.6, 11.3]), ('\u2190 LOC101927324', 22.3, 0, 22.2, 22.6, [22.4]), ('\u2190 COX15', 38.3, 0, 37.3, 39.5, [37.3, 37.7, 38.1, 38.5, 38.9, 39.5]),
             ('\u2190 DNMBP', 56.8, 0, 51.3, 62.6, [51.3, 51.9, 52.5, 53, 53.6, 58, 59, 62.6]), ('\u2190 ERLIN1', 75.5, 0, 74.2, 77.2, [74.2, 74.6, 75.2, 75.7, 76.4, 77.2]), ('\u2190 PKD2L1', 87.4, 0, 85.7, 89.3, [85.7, 86.1, 86.5, 89.3]),
             ('\u2190 GOT1', 12.7, 1, 11.4, 14.3, [11.4, 11.8, 12.3, 12.9, 14.3]), ('NKX2-3 \u2192', 23.1, 1, 22.7, 22.9, [22.8]), ('ENTPD7 \u2192', 35.6, 1, 33.2, 37.6, [33.2, 34.4, 35.2, 35.8, 36.4, 36.9, 37.6]),
             ('ABCC2 \u2192', 46.7, 1, 43.5, 49.5, [43.5, 44, 44.6, 45.2, 46, 46.7, 47.7, 48.5, 49.5]), ('\u2190 CPN1', 66.8, 1, 65.2, 68.5, [65.2, 65.9, 66.5, 67, 67.6, 68.5]), ('\u2190 CHUK', 79, 1, 77.4, 80.9, [77.4, 78, 78.5, 79, 79.6, 80.9]),
             ('SCD \u2192', 91.6, 1, 90.6, 92.1, [90.6, 91, 91.4, 91.8, 92.1])]
p2_ticks = [15.1, 31.8, 48.4, 65.2, 81.7, 98.4]
p3_tracks = [('\u2190 LOC101926964', 7.9, 0, 0, 2.2, [2.2]), ('NFIA \u2192', 58, 0, 33.6, 81.9, [33.6, 34.1, 35, 58.8, 65.6, 68, 68.9, 71.9, 74.7, 77.3, 81.3, 81.9]),
             ('\u2190 NFIA-AS2', 18.4, 1, 16.6, 20.4, [16.6, 18.1, 19.4, 20.4]), ('\u2190 NFIA-AS1', 55.3, 1, 55.2, 55.6, [55.4])]
p3_ticks = [15.8, 40.8, 65.8, 90.8]

LEVEL_NAMES = ['0.8', '0.6', '0.4', '0.2']
R2_COLORS = ['#FF0000', '#FFA500', '#00E800', '#87CEFA', '#000080']
NAVY, LBLUE, GREEN, ORANGE, RED, GREY = '#000080', '#87CEFA', '#00E800', '#FFA500', '#FF0000', '#999999'

fig = plt.figure(figsize=(W / 100, H / 100), dpi=100, facecolor='white')


def px_axes(x0, y0, x1, y1, **kw):
    return fig.add_axes([x0 / W, 1 - y1 / H, (x1 - x0) / W, (y1 - y0) / H], **kw)


# overlay works in the coordinates of the shrunk picture (1244 x 1568)
bg = px_axes(0, 0, W, H, zorder=5)
bg.set_xlim(0, 1244)
bg.set_ylim(1568, 0)
bg.axis('off')
bg.patch.set_alpha(0)


def box(x0, y0, x1, y1):
    bg.add_patch(Rectangle((x0, y0), x1 - x0, y1 - y0, facecolor=GREY_BOX, edgecolor='none'))


def txt(x, y, s, size=18.8, ha='center', **kw):
    bg.text(x, y + 1.2, s, fontsize=size, ha=ha, va='center', color=kw.pop('color', '#111111'), **kw)


def down_arrow(cx, cy):
    pts = [(cx - 6, cy - 12), (cx + 6, cy - 12), (cx + 6, cy), (cx + 13, cy), (cx, cy + 12), (cx - 13, cy), (cx - 6, cy)]
    bg.add_patch(Polygon(pts, closed=True, facecolor='#F0F0F0', edgecolor='#C6C6C6', linewidth=2))


def panel_label(x, y, s):
    bg.text(x, y, s, fontsize=31, fontweight='bold', ha='center', va='center', color='black')


# ---- a
panel_label(11, 16, 'a')
box(41, 9, 366, 86)
txt(203, 24, 'eGFRcrea GWAS meta-analysis')
txt(203, 47, '12,653,804 variants')
txt(203, 70, '(n= 1,508,659 individuals)')
txt(140, 104, r'$\mathit{p}$ < 5×10$^{\mathrm{-8}}$')
down_arrow(204, 104)
box(41, 124, 366, 179)
txt(203, 140, '90,950 variants significantly')
txt(203, 163, 'associated with eGFR')
txt(22, 194, r'Clumping ($\mathit{r}^{\mathrm{2}}$ > 0.1)', size=18, ha='left')
down_arrow(204, 197)
box(41, 217, 365, 248)
txt(203, 233, '1,687 significant lead variants')
txt(16, 266, 'Merge lead variants', ha='left')
down_arrow(204, 265)
txt(220, 266, '(< 0.1cM)', ha='left')
box(41, 287, 365, 317)
txt(203, 302, '878 independent loci')
down_arrow(204, 333)
box(41, 357, 365, 576)
txt(203, 371, '126 novel independent loci')
a_lines = [(406, r'1) $\mathit{p}$ >= 5×10$^{\mathrm{-8}}$ in all of six previous'), (427, 'GWAS studies'),
           (448, '2) >500Kb away from any of previously'), (469, 'reported sentinel variants tagging'),
           (490, 'independent loci'), (511, r'3) LD r$^{\mathrm{2}}$ < 0.001 with any of previously'),
           (532, 'reported sentinel variants tagging'), (553, 'independent loci')]
for ly, s in a_lines:
    txt(53, ly, s, size=17, ha='left')

# ---- b
panel_label(429, 14, 'b')
box(457, 14, 730, 44)
txt(594, 29, '878 independent loci')
ax_b = px_axes(490, 0, 1030, 440)
ax_b.pie(b_values, colors=b_colors, startangle=93, explode=[0, 0.38, 0], radius=1,
         center=(0, 0), wedgeprops={'linewidth': 0})
ax_b.set_xlim(-(757 - 490) / 149, (1030 - 757) / 149)
ax_b.set_ylim(-(440 - 212) / 149, 212 / 149)
txt(565, 58, 'Physically nearby known', size=17, ha='left')
txt(565, 79, 'sentinel variants', size=17, ha='left')
txt(565, 100, r'(<500kb or LD r$^{\mathrm{2}}$ > 0.001),', size=17, ha='left')
txt(565, 121, '164', size=17, ha='left')
txt(677, 150, 'Novel,', size=17)
txt(677, 171, '126', size=17)
txt(518, 171, 'Known,', size=17)
txt(518, 191, '588', size=17)

# ---- c
panel_label(883, 12, 'c')
box(903, 14, 1182, 43)
txt(1043, 29, 'Validation of 126 novel loci')
ax_c = px_axes(1235, 50, 1563, 370)
ax_c.pie(c_values, colors=c_colors, startangle=104, counterclock=False, radius=1, wedgeprops={'linewidth': 0})
ax_c.set_xlim(-164 / 150, 164 / 150)
ax_c.set_ylim(-160 / 150, 160 / 150)
txt(1095, 108, 'eGFRcys')
txt(1095, 131, 'only, 48')
txt(985, 126, 'eGFRcys')
txt(985, 149, 'and BUN,')
txt(985, 172, '45')
txt(1045, 210, 'Not')
txt(1045, 232, 'validated,')
txt(1045, 255, '24')
txt(1138, 231, 'BUN')
txt(1138, 254, 'only, 9')

# ---- d
panel_label(429, 314, 'd')
box(446, 300, 1005, 332)
txt(454, 316, 'Function enrichment of 126 novel independent loci by GREAT', ha='left')
bg.plot([445, 1228], [334, 334], color='black', lw=2.2)
bg.plot([445, 1228], [372.5, 372.5], color='black', lw=1.2)
bg.plot([445, 1228], [543.6, 543.6], color='black', lw=2.2)
row_y = [381, 398.5, 415, 433, 450, 467, 484, 501, 519, 535]
col_right = [850, 944, 1039, 1132, 1226.5]
for j, s in enumerate(['P-Value', 'FDR Q-Val', 'Enrichment', 'Region Hits', 'Gene Hits']):
    txt(col_right[j], 363, s, size=14.8, ha='right', fontweight='bold')
txt(445.5, 363, 'Term Name', size=14.8, ha='left', fontweight='bold')
txt(col_right[2], 344, 'Fold', size=14.8, ha='right', fontweight='bold')
txt(col_right[3], 344, 'Observed', size=14.8, ha='right', fontweight='bold')
txt(col_right[4], 344, 'Observed', size=14.8, ha='right', fontweight='bold')
for i in range(len(term_names)):
    txt(445.5, row_y[i], term_names[i], size=13.3, ha='left')
    for j, col in enumerate([p_vals, fdr_vals, fold_vals, region_hits, gene_hits]):
        txt(col_right[j], row_y[i], col[i], size=13.3, ha='right')

# ---- e
panel_label(429, 586, 'e')
box(445, 576, 661, 653)
txt(553, 590, 'Literature search of')
txt(553, 613, '125 closest genes to')
txt(553, 637, '126 novel loci')
ax_e = px_axes(593, 860, 893, 1160)
ax_e.pie(e_values, colors=e_colors, startangle=-29.5, radius=1, wedgeprops={'linewidth': 0})
ax_e.set_xlim(-150 / 135, 150 / 135)
ax_e.set_ylim(-153 / 135, 147 / 135)
txt(554, 682, 'Not')
txt(554, 705, 'reported,')
txt(554, 728, '83')
txt(555, 788, 'Reported as', size=17.6)
txt(555, 810, 'kidney disease', size=17.6)
txt(555, 833, 'gene, 42', size=17.6)
bg.add_patch(FancyArrow(448, 834, -60.5, 3, width=11.5, head_width=26, head_length=13, length_includes_head=True, color='#FF0000', linewidth=0))

# ---- f
panel_label(31, 678, 'f')
cmap = LinearSegmentedColormap.from_list('expr', [(0, '#000008'), (1 / 3, '#00004A'), (0.5, '#000085'), (0.55, '#00008F'), (1, '#EEDD82')])
norm = Normalize(-3, 3)
ax_f = px_axes(102, 956, 493, 2100)
mesh = ax_f.pcolormesh(expr, cmap=cmap, norm=norm, edgecolors='white', linewidth=1.1)
ax_f.set_ylim(len(genes), 0)
ax_f.set_xlim(0, len(cell_types))
ax_f.xaxis.tick_top()
ax_f.set_xticks([i + 0.5 for i in range(len(cell_types))])
ax_f.set_xticklabels(cell_types, rotation=90, fontsize=18.5, color='#111111')
ax_f.set_yticks([i + 0.5 for i in range(len(genes))])
ax_f.set_yticklabels(genes, fontsize=17, style='italic', color='#111111')
for lab in ax_f.get_yticklabels():
    if lab.get_text() in bold_genes:
        lab.set_fontweight('bold')
ax_f.tick_params(length=0, pad=4)
for sp in ax_f.spines.values():
    sp.set_visible(False)

txt(448, 1456, 'Normalized', size=17)
txt(448, 1477, 'gene', size=17)
txt(448, 1499, 'expression', size=17)
cax = px_axes(530, 2028, 671, 2053)
cb = fig.colorbar(mesh, cax=cax, orientation='horizontal')
cb.set_ticks([])
cb.outline.set_visible(False)
txt(398, 1547, '-3', size=18)
txt(449, 1547, '0', size=18)
txt(498, 1547, '3', size=18)

# grey arrows from the heat map to the locus panels
for (x0, y0, x1, y1) in [(370, 945, 712, 848), (372, 968, 710, 1125), (372, 1035, 698, 1365)]:
    bg.add_patch(FancyArrowPatch((x0, y0), (x1, y1), arrowstyle='-|>', mutation_scale=24, color='#CACACA', lw=4.5, shrinkA=0, shrinkB=0))

# ---- g
panel_label(756, 682, 'g')
box(782, 687, 1171, 717)
txt(790, 702, 'Locuszoom of three novel independent loci', ha='left')

DIAMOND = Path([(0, 1), (1, 0), (0, -1), (-1, 0), (0, 1)], closed=True)


def dots(ax, xs, ys, color, z, lw=0.9):
    ax.scatter(xs, ys, s=52, marker='o', facecolor=color, edgecolor='#3A3A3A', linewidths=lw, zorder=z)


def pairs(ax, pts, color, z):
    dots(ax, [p[0] for p in pts], [p[1] for p in pts], color, z)


def locus_panel(top, bottom, y_ten, y_zero, ten_val, rec_top, y_ticks, gene_box, levels, rows, upper, layers, lead, rs, rec_x, rec_y, tracks, gticks, leg, ylab_shift):
    ax = px_axes(1029, top, 1589, bottom)
    unit = (y_zero - y_ten) / ten_val
    ax.set_xlim(0, 100)
    ax.set_ylim((y_zero - bottom) / unit, (y_zero - top) / unit)
    ax.set_xticks([])
    ax.set_yticks(y_ticks)
    ax.tick_params(axis='y', labelsize=19, length=7, width=1, color='#444444', pad=3)
    for sp in ax.spines.values():
        sp.set_color('#B0B0B0')
        sp.set_linewidth(1.6)
    bx = ax.twinx()
    rec_unit = (y_zero - rec_top) / 100
    bx.set_ylim((y_zero - bottom) / rec_unit, (y_zero - top) / rec_unit)
    bx.set_yticks([0, 20, 40, 60, 80, 100])
    bx.tick_params(axis='y', labelsize=18, length=7, width=1, color=BLUE, labelcolor=BLUE, pad=3)
    for sp in bx.spines.values():
        sp.set_visible(False)
    bx.plot(rec_x, rec_y, color=BLUE, lw=1.3, zorder=1)
    ax.set_zorder(bx.get_zorder() + 1)
    ax.patch.set_visible(False)
    dots(ax, low_x_a, [0.03] * len(low_x_a), NAVY, 3, lw=1.7)
    dots(ax, low_grey_x, [0.26] * len(low_grey_x), '#484848', 3.1, lw=1.2)
    dots(ax, low_x_b, [0.2] * len(low_x_b), NAVY, 3.2, lw=1.7)
    for lev, xs in zip(levels, rows):
        dots(ax, xs, [lev] * len(xs), NAVY, 4, lw=1.4)
    pairs(ax, upper, NAVY, 4.5)
    for pts, col, z in layers:
        pairs(ax, pts, col, z)
    ax.scatter([lead[0]], [lead[1]], s=70, marker=DIAMOND, facecolor='#7A28C8', edgecolor='#444444', linewidths=0.7, zorder=12)
    ax.text(lead[0], lead[1] + 7 / unit, rs, fontsize=8.5, ha='center', va='bottom', color='#222222', zorder=12)
    bg.text(975 / 1.339, (top + bottom) / 2 / 1.339 + ylab_shift, '-log10(p)', fontsize=22.5, rotation=90, ha='center', va='center', color='#111111')
    bg.text(1653 / 1.339, (top + bottom) / 2 / 1.339, 'Recombination rate (cM/Mb)', fontsize=16.6, rotation=270, ha='center', va='center', color=BLUE)

    # legend box for r2
    lx0, ly0 = leg
    la = px_axes(lx0, ly0, lx0 + 46, ly0 + 103, zorder=6)
    la.set_xlim(0, 46)
    la.set_ylim(103, 0)
    la.set_xticks([])
    la.set_yticks([])
    for sp in la.spines.values():
        sp.set_color('#888888')
    for k, c in enumerate(R2_COLORS):
        la.add_patch(Rectangle((6, 18 + 16 * k), 11, 16, facecolor=c, edgecolor='none'))
    for k, s in enumerate(LEVEL_NAMES):
        la.text(26, 34 + 16 * k, s, fontsize=7, color='#666666', ha='left', va='center')
        la.plot([17, 23], [34 + 16 * k, 34 + 16 * k], color='#888888', lw=0.6)
    la.text(23, 9, 'r$^{\\mathrm{2}}$', fontsize=7.5, color='#666666', ha='center', va='center')

    # gene track
    g0, g1 = gene_box
    gx = px_axes(1029, g0, 1589, g1)
    gx.set_xlim(0, 100)
    gx.set_ylim(1, 0)
    gx.set_yticks([])
    gx.set_xticks(gticks)
    gx.set_xticklabels([])
    gx.tick_params(axis='x', length=2, width=0.6, color='#555555')
    for sp in gx.spines.values():
        sp.set_color('#BBBBBB')
    for name, lab_x, row, g_start, g_end, exons in tracks:
        yt = 0.19 + 0.5 * row
        yl = 0.36 + 0.5 * row
        gx.text(lab_x, yt, name, fontsize=8, style='italic', ha='center', va='center', color='#222222')
        gx.plot([g_start, g_end], [yl, yl], color='#1F1F8F', lw=0.8)
        gx.scatter(exons, [yl] * len(exons), marker='|', s=22, color='#000080', linewidths=1.1)


locus_panel(966, 1277, 987, 1263, 10, 979, [0, 2, 4, 6, 8, 10], (1291, 1331), p1_levels, p1_rows, p1_upper,
            [(p1_grey, GREY, 4.2), (p1_navy, NAVY, 6), (p1_lblue, LBLUE, 7), (p1_orange, ORANGE, 9), (p1_red, RED, 10)],
            p1_lead, 'rs6922686', p1_rec_x, p1_rec_y, p1_tracks, p1_ticks, (1036, 971), 8)
locus_panel(1348, 1659, 1349.5, 1646, 12, 1362, [0, 2, 4, 6, 8, 10, 12], (1673, 1714), p2_levels, p2_rows, p2_upper,
            [(p2_grey, GREY, 4.2), (p2_navy, NAVY, 6), (p2_lblue, LBLUE, 7), (p2_green, GREEN, 8), (p2_orange, ORANGE, 9), (p2_red, RED, 10)],
            p2_lead, 'rs112997117', p2_rec_x, p2_rec_y, p2_tracks, p2_ticks, (1537, 1353), 4)
locus_panel(1731, 2042, 1742, 2028, 12, 1744, [0, 2, 4, 6, 8, 10, 12], (2055, 2097), p3_levels, p3_rows, p3_upper,
            [(p3_grey, GREY, 4.2), (p3_navy, NAVY, 6), (p3_lblue, LBLUE, 7), (p3_green, GREEN, 8), (p3_orange, ORANGE, 9)],
            p3_lead, 'rs332823', p3_rec_x, p3_rec_y, p3_tracks, p3_ticks, (1036, 1736), 4)

fig.savefig('out.png', dpi=100, facecolor='white')
